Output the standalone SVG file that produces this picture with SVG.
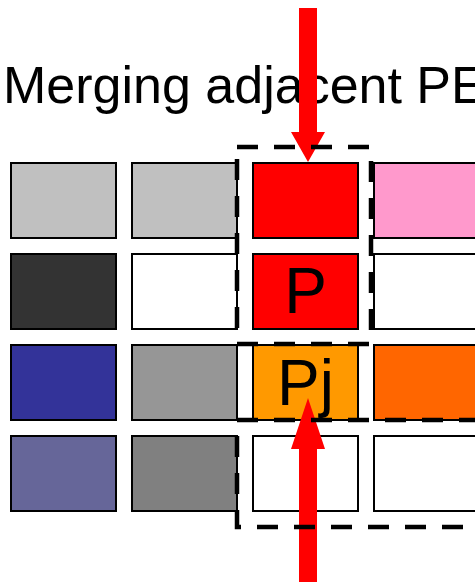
<svg xmlns="http://www.w3.org/2000/svg" width="475" height="582" viewBox="0 0 475 582">
<style>
.c{stroke:#000;stroke-width:2}
.d{fill:none;stroke:#000;stroke-width:4.5;stroke-dasharray:21 16}
.t{font-family:"Liberation Sans",Arial,sans-serif;fill:#000}
.a{fill:#FF0000}
</style>
<rect width="475" height="582" fill="#fff"/>
<text class="t" x="3" y="103" font-size="52">Merging adjacent PE</text>
<g id="grid">
<g id="r1c1"><rect class="c" x="11" y="163" width="105" height="75" fill="#C0C0C0"/></g>
<g id="r1c2"><rect class="c" x="132" y="163" width="105" height="75" fill="#C0C0C0"/></g>
<g id="r1c3"><rect class="c" x="253" y="163" width="105" height="75" fill="#FF0000"/></g>
<g id="r1c4"><rect class="c" x="374" y="163" width="105" height="75" fill="#FF99CC"/></g>
<g id="r2c1"><rect class="c" x="11" y="254" width="105" height="75" fill="#333333"/></g>
<g id="r2c2"><rect class="c" x="132" y="254" width="105" height="75" fill="#FFFFFF"/></g>
<g id="r2c3"><rect class="c" x="253" y="254" width="105" height="75" fill="#FF0000"/><text class="t" x="305.5" y="313" font-size="64" text-anchor="middle">P</text></g>
<g id="r2c4"><rect class="c" x="374" y="254" width="105" height="75" fill="#FFFFFF"/></g>
<g id="r3c1"><rect class="c" x="11" y="345" width="105" height="75" fill="#333399"/></g>
<g id="r3c2"><rect class="c" x="132" y="345" width="105" height="75" fill="#969696"/></g>
<g id="r3c3"><rect class="c" x="253" y="345" width="105" height="75" fill="#FF9900"/><text class="t" x="305.5" y="405" font-size="64" text-anchor="middle">Pj</text></g>
<g id="r3c4"><rect class="c" x="374" y="345" width="105" height="75" fill="#FF6600"/></g>
<g id="r4c1"><rect class="c" x="11" y="436" width="105" height="75" fill="#666699"/></g>
<g id="r4c2"><rect class="c" x="132" y="436" width="105" height="75" fill="#808080"/></g>
<g id="r4c3"><rect class="c" x="253" y="436" width="105" height="75" fill="#FFFFFF"/></g>
<g id="r4c4"><rect class="c" x="374" y="436" width="105" height="75" fill="#FFFFFF"/></g>
</g>
<g id="connectors">
<path class="a" d="M299,8 H317 V132 H325 L308,162 L291,132 H299 Z"/>
<path class="a" d="M299,582 V449 H291 L308,398 L325,449 H317 V582 Z"/>
</g>
<g id="regions">
<rect class="d" x="237" y="147" width="134" height="197"/>
<path class="d" d="M480,420 H237 V527 H480"/>
</g>
</svg>
